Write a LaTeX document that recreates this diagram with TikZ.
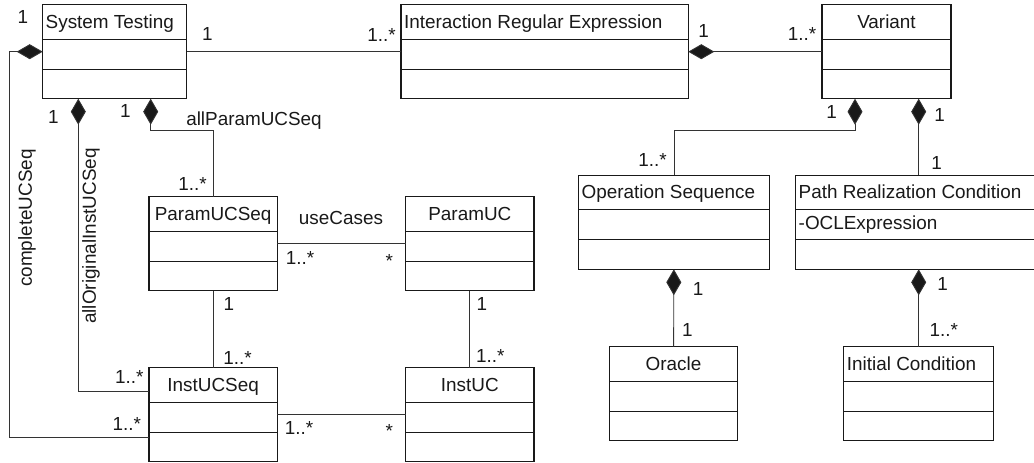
\documentclass[tikz,border=0pt]{standalone}
\usepackage{fontspec}
\setmainfont{Liberation Sans}
\usetikzlibrary{arrows.meta}

% UML class: name, x, y (top left), width, title, title placement (l = left, c = centred)
\newcommand\umlclass[6]{%
  \node[classbox, minimum width=#4pt] (#1) at (#2,#3) {};
  \draw[boxline] ([yshift=-34.5pt]#1.north west) -- ([yshift=-34.5pt]#1.north east);
  \draw[boxline] ([yshift=-64.5pt]#1.north west) -- ([yshift=-64.5pt]#1.north east);
  \ifx l#6
    \node[txt, anchor=base west] (#1-title) at ([xshift=2.8pt,yshift=-23.5pt]#1.north west) {#5};
  \else
    \node[txt, anchor=base] (#1-title) at ([yshift=-23.5pt]#1.north) {#5};
  \fi
}

\begin{document}
\begin{tikzpicture}[x=1pt,y=-1pt,
  boxline/.style={draw=black!90, line width=1.1pt},
  classbox/.style={boxline, fill=white, inner sep=0pt, outer sep=0pt,
    minimum height=94pt, anchor=north west},
  txt/.style={inner sep=0pt, text=black!90, font=\fontsize{18.9}{22}\selectfont},
  lbl/.style={txt, anchor=base},
  assoc/.style={draw=black!80, line width=0.9pt},
  comp/.style={assoc, {Diamond[length=26pt,width=15pt,fill=black!90]}-},
]
\useasboundingbox (0,0) rectangle (1034,463);
\clip (0,0) rectangle (1034,463);

% classes
\umlclass{st}{42.7}{4.7}{144}{System Testing}{l}
\umlclass{ire}{401}{4.7}{287.3}{Interaction Regular Expression}{l}
\umlclass{var}{822}{4.7}{129}{Variant}{c}
\umlclass{psq}{149}{196.7}{128.3}{ParamUCSeq}{c}
\umlclass{puc}{405.7}{196.7}{128.3}{ParamUC}{c}
\umlclass{isq}{149}{367.7}{128.3}{InstUCSeq}{c}
\umlclass{iuc}{405.7}{367.7}{128.3}{InstUC}{c}
\umlclass{ops}{578.7}{175.3}{190.6}{Operation Sequence}{l}
\umlclass{prc}{795.7}{175.3}{246}{Path Realization Condition}{l}
\umlclass{ora}{609.5}{346.7}{128}{Oracle}{c}
\umlclass{ic}{843.9}{346.7}{149.6}{Initial Condition}{l}
\node[txt, anchor=base west] (prc-attr) at ([xshift=2.8pt,yshift=-53.7pt]prc.north west) {-OCLExpression};

% helper points
\coordinate (stA) at ([xshift=35.6pt]st.south west);
\coordinate (stB) at ([xshift=108pt]st.south west);
\coordinate (cu) at (9,437.7);
\coordinate (isqhi) at ([yshift=23.7pt]isq.west);
\coordinate (isqlo) at ([yshift=-23pt]isq.west);
\coordinate (varA) at ([xshift=33pt]var.south west);

% associations
\draw[assoc] (st) -- (ire);
\draw[comp] (ire) -- (var);
\draw[comp] (st.west) -| (cu) -- (isqlo);
\draw[comp] (stA) |- (isqhi);
\draw[comp] (stB) -- ++(0,32) -| (psq.north);
\draw[assoc] (psq) -- (puc);
\draw[assoc] (isq) -- (iuc);
\draw[assoc] (psq) -- (isq);
\draw[assoc] (puc) -- (iuc);
\draw[comp] (varA) -- ++(0,32) -| (ops.north);
\draw[comp] (prc.north |- var.south) -- (prc.north);
\draw[comp] (ops) -- (ora);
\draw[comp] (prc) -- (ic);

% role names
\node[lbl] (n-allparam) at (254,125) {allParamUCSeq};
\node[lbl] (n-usecases) at (341,224) {useCases};
\node[txt, rotate=90] (n-complete) at (27,218) {completeUCSeq};
\node[txt, rotate=90] (n-alloriginal) at (91,236) {allOriginalInstUCSeq};

% multiplicities
\node[lbl] (m1) at (23,23.5) {1};
\node[lbl] (m2) at (207.5,40.5) {1};
\node[lbl] (m3) at (381.5,41.5) {1..*};
\node[lbl] (m4) at (703.5,37) {1};
\node[lbl] (m5) at (802,40.7) {1..*};
\node[lbl] (m6) at (831.5,118) {1};
\node[lbl] (m7) at (939.7,121.7) {1};
\node[lbl] (m8) at (936.5,169) {1};
\node[lbl] (m9) at (652.5,166.7) {1..*};
\node[lbl] (m10) at (53.3,123) {1};
\node[lbl] (m11) at (125.5,117) {1};
\node[lbl] (m12) at (192.5,190) {1..*};
\node[lbl] (m13) at (300,264) {1..*};
\node[lbl] (m14) at (389.3,267) {*};
\node[lbl] (m15) at (229,310) {1};
\node[lbl] (m16) at (237.5,364) {1..*};
\node[lbl] (m17) at (482,310) {1};
\node[lbl] (m18) at (490.3,362) {1..*};
\node[lbl] (m19) at (299,434) {1..*};
\node[lbl] (m20) at (389.3,437) {*};
\node[lbl] (m21) at (129.3,383.3) {1..*};
\node[lbl] (m22) at (126.7,430) {1..*};
\node[lbl] (m23) at (698,295) {1};
\node[lbl] (m24) at (687.3,336.7) {1};
\node[lbl] (m25) at (942.7,290) {1};
\node[lbl] (m26) at (943.7,336) {1..*};
\end{tikzpicture}
\end{document}
